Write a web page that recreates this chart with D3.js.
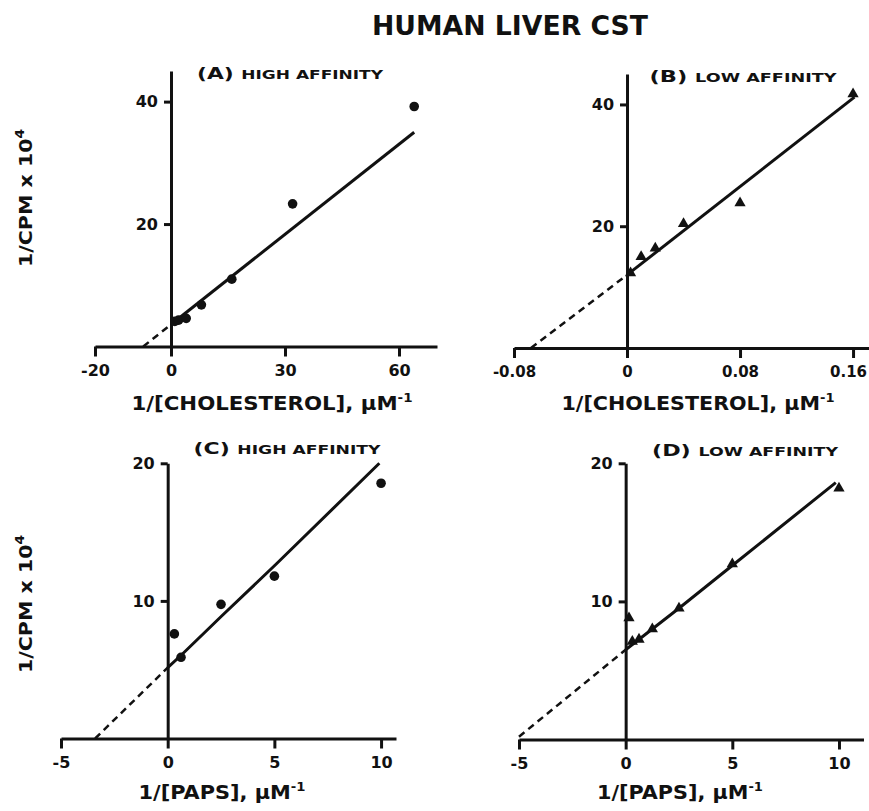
<!DOCTYPE html>
<html>
<head>
<script src="https://d3js.org/d3.v7.min.js"></script>
<style>
  body { margin: 0; background: #fff; }
  svg text { font-family: "DejaVu Sans", sans-serif; font-weight: bold; fill: #111; }
  .axis path, .axis line { stroke: #111; stroke-width: 3px; }
  .axis .tick text { font-size: 16px; }
  .fit { fill: none; stroke: #111; stroke-width: 3px; }
  .dash { fill: none; stroke: #111; stroke-width: 2.5px; stroke-dasharray: 7,5; }
  .pt { fill: #111; }
</style>
</head>
<body>
<script>
// (A) high affinity, 1/[cholesterol]
var xA = [1, 2, 4, 8, 16, 32, 64];
var yA = [4.1, 4.3, 4.6, 6.8, 11.0, 23.3, 39.2];
var fitA = [[0, 3.6], [64, 35.0]];
var extA = [[-7.3, 0], [0, 3.6]];
var xTicksA = [-20, 0, 30, 60];
var yTicksA = [20, 40];

// (B) low affinity, 1/[cholesterol]
var xB = [0.0025, 0.01, 0.02, 0.04, 0.08, 0.16];
var yB = [12.3, 15.0, 16.4, 20.4, 23.8, 41.7];
var fitB = [[0, 12.0], [0.161, 41.2]];
var extB = [[-0.068, 0], [0, 12.0]];
var xTicksB = [-0.08, 0, 0.08, 0.16];
var yTicksB = [20, 40];

// (C) high affinity, 1/[PAPS]
var xC = [0.3125, 0.625, 2.5, 5, 10];
var yC = [7.6, 5.9, 9.75, 11.8, 18.55];
var fitC = [[0, 5.15], [0.63, 6.05], [2.53, 8.9], [5.1, 12.7], [9.92, 20.0]];
var extC = [[-3.4, 0], [0, 5.15]];
var xTicksC = [-5, 0, 5, 10];
var yTicksC = [10, 20];

// (D) low affinity, 1/[PAPS]
var xD = [0.156, 0.3125, 0.625, 1.25, 2.5, 5, 10];
var yD = [8.8, 7.1, 7.25, 8.0, 9.5, 12.7, 18.2];
var fitD = [[0, 6.5], [2.5, 9.5], [5, 12.6], [9.85, 18.6]];
var extD = [[-5, 0.2], [0, 6.5]];
var xTicksD = [-5, 0, 5, 10];
var yTicksD = [10, 20];

var panels = [
  {title: "(A)", sub: "HIGH AFFINITY", xs: xA, ys: yA, fit: fitA, ext: extA, xt: xTicksA, yt: yTicksA,
   xd: [-20, 70], xr: [95, 437], yd: [0, 45], yr: [346.5, 71], sym: "circle",
   tx: 290, ty: 79, tw: 186, xl: "1/[CHOLESTEROL], \u03bcM", lx: 272, ly: 410, lw: 281, yl: true, yly: 198},
  {title: "(B)", sub: "LOW AFFINITY", xs: xB, ys: yB, fit: fitB, ext: extB, xt: xTicksB, yt: yTicksB,
   xd: [-0.08, 0.172], xr: [514, 870], yd: [0, 45], yr: [348, 74], sym: "tri", tickFs: 15,
   tx: 743, ty: 82, tw: 187, xl: "1/[CHOLESTEROL], \u03bcM", lx: 698, ly: 410, lw: 273, yl: false},
  {title: "(C)", sub: "HIGH AFFINITY", xs: xC, ys: yC, fit: fitC, ext: extC, xt: xTicksC, yt: yTicksC,
   xd: [-5, 10.7], xr: [61, 396], yd: [0, 20], yr: [738.5, 463.3], sym: "circle",
   tx: 287, ty: 454, tw: 187, xl: "1/[PAPS], \u03bcM", lx: 222, ly: 799, lw: 167, yl: true, yly: 604},
  {title: "(D)", sub: "LOW AFFINITY", xs: xD, ys: yD, fit: fitD, ext: extD, xt: xTicksD, yt: yTicksD,
   xd: [-5, 11.15], xr: [519, 863.5], yd: [0, 20], yr: [739.5, 463.3], sym: "tri",
   tx: 745, ty: 456, tw: 186, xl: "1/[PAPS], \u03bcM", lx: 680, ly: 799, lw: 166, yl: false}
];

var svg = d3.select("body").append("svg")
    .attr("width", 869)
    .attr("height", 811);

svg.append("text")
    .attr("x", 510).attr("y", 35)
    .attr("text-anchor", "middle")
    .attr("font-size", 27)
    .attr("textLength", 276)
    .attr("lengthAdjust", "spacingAndGlyphs")
    .text("HUMAN LIVER CST");

panels.forEach(function(p) {
  var x = d3.scaleLinear().domain(p.xd).range(p.xr);
  var y = d3.scaleLinear().domain(p.yd).range(p.yr);
  var g = svg.append("g");

  // x axis
  var xg = g.append("g")
      .attr("class", "axis")
      .attr("transform", "translate(0," + y(0) + ")")
      .call(d3.axisBottom(x).tickValues(p.xt).tickSize(10).tickSizeOuter(0).tickPadding(8)
        .tickFormat(function(d) { return String(d); }));

  // keep the last label inside the page when the axis runs to the edge
  if (p.tickFs) {
    xg.selectAll(".tick text").style("font-size", p.tickFs + "px");
    xg.selectAll(".tick text").filter(function(d, i, n) { return i === n.length - 1; })
        .attr("dx", -5);
  }

  // y axis at x = 0
  g.append("g")
      .attr("class", "axis")
      .attr("transform", "translate(" + x(0) + ",0)")
      .call(d3.axisLeft(y).tickValues(p.yt).tickSize(7).tickSizeOuter(0).tickPadding(6));

  g.selectAll(".axis").attr("font-family", null).attr("font-size", null);

  var line = d3.line()
      .x(function(d) { return x(d[0]); })
      .y(function(d) { return y(d[1]); });

  g.append("path").attr("class", "dash").attr("d", line(p.ext));
  g.append("path").attr("class", "fit").attr("d", line(p.fit));

  var pts = p.xs.map(function(v, i) { return [v, p.ys[i]]; });
  if (p.sym === "circle") {
    g.selectAll("circle.pt").data(pts).enter().append("circle")
        .attr("class", "pt")
        .attr("r", 4.8)
        .attr("cx", function(d) { return x(d[0]); })
        .attr("cy", function(d) { return y(d[1]); });
  } else {
    g.selectAll("path.pt").data(pts).enter().append("path")
        .attr("class", "pt")
        .attr("d", d3.symbol(d3.symbolTriangle).size(55))
        .attr("transform", function(d) { return "translate(" + x(d[0]) + "," + y(d[1]) + ")"; });
  }

  // panel title
  var t = g.append("text")
      .attr("x", p.tx).attr("y", p.ty)
      .attr("text-anchor", "middle")
      .attr("textLength", p.tw)
      .attr("lengthAdjust", "spacingAndGlyphs");
  t.append("tspan").attr("font-size", 16).text(p.title + " ");
  t.append("tspan").attr("font-size", 12.5).text(p.sub);

  // x axis label
  var xl = g.append("text")
      .attr("x", p.lx).attr("y", p.ly)
      .attr("text-anchor", "middle")
      .attr("font-size", 19)
      .attr("textLength", p.lw)
      .attr("lengthAdjust", "spacingAndGlyphs");
  xl.append("tspan").text(p.xl);
  xl.append("tspan").attr("font-size", 12).attr("dy", -8).text("-1");

  // y axis label
  if (p.yl) {
    var yl = g.append("text")
        .attr("transform", "translate(32," + p.yly + ") rotate(-90)")
        .attr("text-anchor", "middle")
        .attr("font-size", 18)
        .attr("textLength", 138)
        .attr("lengthAdjust", "spacingAndGlyphs");
    yl.append("tspan").text("1/CPM x 10");
    yl.append("tspan").attr("font-size", 12).attr("dy", -8).text("4");
  }
});
</script>
</body>
</html>
